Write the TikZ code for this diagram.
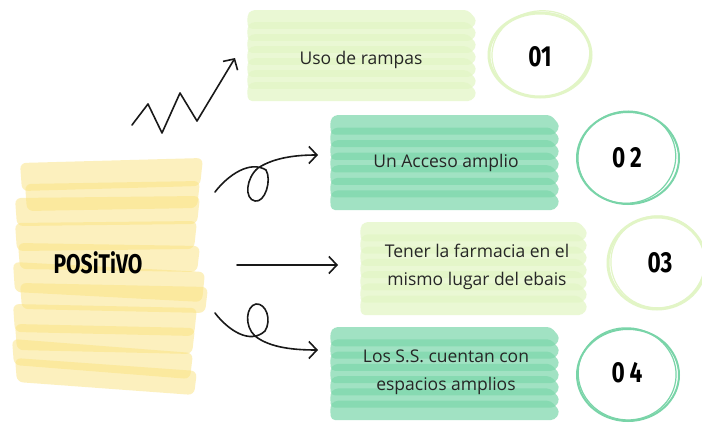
\documentclass[tikz,border=0pt]{standalone}
\usepackage{fontspec}
\setmainfont{Open Sans}
\newfontfamily\numfont[FakeStretch=0.78]{Fira Sans}
\usetikzlibrary{arrows.meta}
\definecolor{ylw}{HTML}{FBE37F}
\definecolor{grn}{HTML}{7ED7AC}
\definecolor{lgrn}{HTML}{E3F6C6}
\definecolor{lcirc}{HTML}{E2F5C6}
\definecolor{dcirc}{HTML}{79D4A8}
\newcommand\brushstripes[6]{%
  \pgfmathsetmacro\bh{(#4-#2)/(#5)*1.45}%
  \pgfmathsetmacro\bstep{((#4-#2)-\bh)/(#5-1)}%
  \foreach \i in {1,...,#5}{%
    \pgfmathsetmacro\yt{#2+(\i-1)*\bstep}%
    \pgfmathsetmacro\yb{\yt+\bh}%
    \pgfmathsetmacro\ym{\yt+0.55*\bh}%
    \pgfmathsetmacro\yl{\yt+0.3*\bh}%
    \fill[#6, rounded corners=4pt] (#1+4,\yt) -- (#3-9,\yt) -- (#3,\ym) -- (#3-5,\yb) -- (#1+1,\yb) -- (#1,\yl) -- cycle;
  }}
\newcommand\ystripe[5]{%
  \fill[ylw, fill opacity=0.5, rounded corners=6pt] (#1,#2) -- (#3,#4) -- (#3-3,#4+#5) -- (#1+2,#2+#5) -- cycle;}
\begin{document}
\begin{tikzpicture}[x=1pt,y=-1pt,
  bodytext/.style={font=\fontsize{17.5}{28}\selectfont, text=black!85, align=center},
  numtext/.style={font=\numfont\bfseries\fontsize{29}{29}\selectfont, text=black},
  harrow/.style={line width=1.6pt, line cap=round, line join=round, black!90,
     -{Straight Barb[length=8pt,width=17pt]}}]
\useasboundingbox (0,0) rectangle (702,423);
\fill[white] (0,0) rectangle (702,423);

% yellow block
\ystripe{20}{163}{203}{158}{28}
\ystripe{25}{184}{200}{181}{27}
\ystripe{15}{198}{200}{196}{28}
\ystripe{15}{223}{197}{221}{28}
\ystripe{18}{243}{200}{246}{26}
\ystripe{13}{262}{205}{272}{30}
\ystripe{20}{283}{208}{287}{26}
\ystripe{13}{304}{197}{308}{28}
\ystripe{15}{324}{195}{328}{26}
\ystripe{12}{339}{193}{353}{26}
\ystripe{15}{358}{197}{371}{24}
\node[numtext, font=\numfont\bfseries\fontsize{27}{27}\selectfont] (pos) at (98,263) {POSiTiVO};

% boxes
\brushstripes{247}{10}{477}{101}{7}{lgrn, fill opacity=0.75}
\brushstripes{330}{115}{560}{210}{7}{grn, fill opacity=0.72}
\brushstripes{360}{222}{588}{315}{7}{lgrn, fill opacity=0.75}
\brushstripes{330}{327}{560}{420}{7}{grn, fill opacity=0.72}

\node[bodytext] (t1) at (361,60) {Uso de rampas};
\node[bodytext] (t2) at (446,163) {Un Acceso amplio};
\node[bodytext] (t3) at (477,267) {Tener la farmacia en el\\mismo lugar del ebais};
\node[bodytext] (t4) at (446,372) {Los S.S. cuentan con\\espacios amplios};

% circles
\draw[lcirc, line width=3pt] (540,55) ellipse [x radius=51, y radius=42];
\draw[lcirc, line width=1.2pt, rotate around={8:(540,55)}] (541,54) ellipse [x radius=49, y radius=43];
\draw[dcirc, line width=2pt] (628,158) ellipse [x radius=51, y radius=46];
\draw[dcirc, line width=1.2pt, rotate around={10:(628,158)}] (627,157) ellipse [x radius=49, y radius=46];
\draw[lcirc, line width=3pt] (657,263) ellipse [x radius=49, y radius=46];
\draw[lcirc, line width=1.2pt, rotate around={8:(657,263)}] (658,262) ellipse [x radius=47, y radius=46];
\draw[dcirc, line width=2pt] (628,375) ellipse [x radius=51, y radius=46];
\draw[dcirc, line width=1.2pt, rotate around={-8:(628,375)}] (627,374) ellipse [x radius=49, y radius=46];

\node[numtext] (n1) at (540,57) {01};
\node[numtext] (n2) at (627,158) {0\,2};
\node[numtext] (n3) at (660,263) {03};
\node[numtext] (n4) at (627,373) {0\,4};

% arrows
\coordinate (a1s) at (132,125);
\coordinate (a1e) at (235,58);
\draw[harrow] (a1s) -- (148,104) -- (162,133) -- (180,93) -- (197,121) -- (a1e);

\coordinate (a2s) at (215,192);
\coordinate (a2e) at (318,155);
\draw[harrow] (a2s) .. controls (228,175) and (250,160) .. (266,170)
  .. controls (272,180) and (265,203) .. (255,201)
  .. controls (244,199) and (246,178) .. (258,168)
  .. controls (275,157) and (298,155) .. (a2e);

\coordinate (a3s) at (237,265);
\coordinate (a3e) at (338,265);
\draw[harrow] (a3s) -- (a3e);

\coordinate (a4s) at (215,313);
\coordinate (a4e) at (318,350);
\draw[harrow] (a4s) .. controls (228,330) and (250,345) .. (265,331)
  .. controls (272,320) and (266,303) .. (256,304)
  .. controls (246,306) and (244,326) .. (255,336)
  .. controls (270,348) and (295,350) .. (a4e);
\end{tikzpicture}
\end{document}
